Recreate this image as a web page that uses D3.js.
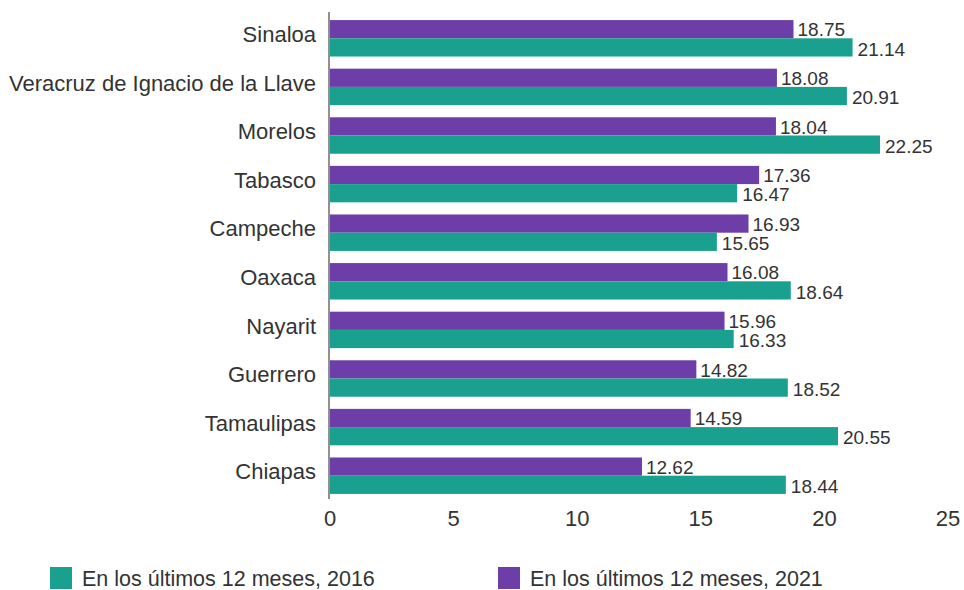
<!DOCTYPE html>
<html>
<head>
<meta charset="utf-8">
<script src="https://cdn.jsdelivr.net/npm/d3@7"></script>
<style>
  body { margin: 0; background: #fff; }
  svg text { font-family: "Liberation Sans", Arial, sans-serif; fill: #333; }
</style>
</head>
<body>
<div id="chart"></div>
<script>
// Data
const states = ['Sinaloa', 'Veracruz de Ignacio de la Llave', 'Morelos', 'Tabasco', 'Campeche',
  'Oaxaca', 'Nayarit', 'Guerrero', 'Tamaulipas', 'Chiapas']
const values2021 = [18.75, 18.08, 18.04, 17.36, 16.93, 16.08, 15.96, 14.82, 14.59, 12.62]
const values2016 = [21.14, 20.91, 22.25, 16.47, 15.65, 18.64, 16.33, 18.52, 20.55, 18.44]
const xTicks = [0, 5, 10, 15, 20, 25]
const seriesNames = ['En los últimos 12 meses, 2016', 'En los últimos 12 meses, 2021']
const colors = ['#1aa08e', '#6e3ea8']

const width = 964
const height = 590

const svg = d3.select('#chart')
  .append('svg')
  .attr('width', width)
  .attr('height', height)

// Scales
const xScale = d3.scaleLinear()
  .domain([0, 25])
  .range([330, 948])

const yScale = d3.scaleBand()
  .domain(states)
  .range([14, 500])
  .paddingInner(0.25)
  .paddingOuter(0.125)

// two bars inside each band: 2021 on top, 2016 below
const subScale = d3.scaleBand()
  .domain(['2021', '2016'])
  .range([0, yScale.bandwidth()])

const rows = states.map((s, i) => ({ state: s, v2021: values2021[i], v2016: values2016[i] }))

const groups = svg.append('g')
  .selectAll('g')
  .data(rows)
  .join('g')
  .attr('transform', d => `translate(0, ${yScale(d.state)})`)

groups.append('rect')
  .attr('x', xScale(0))
  .attr('y', subScale('2021'))
  .attr('width', d => xScale(d.v2021) - xScale(0))
  .attr('height', subScale.bandwidth())
  .attr('fill', colors[1])

groups.append('rect')
  .attr('x', xScale(0))
  .attr('y', subScale('2016'))
  .attr('width', d => xScale(d.v2016) - xScale(0))
  .attr('height', subScale.bandwidth())
  .attr('fill', colors[0])

// value labels
groups.append('text')
  .attr('x', d => xScale(d.v2021) + 4)
  .attr('y', subScale('2021') + subScale.bandwidth() - 2)
  .style('font-size', '19px')
  .text(d => d.v2021.toFixed(2))

groups.append('text')
  .attr('x', d => xScale(d.v2016) + 5)
  .attr('y', subScale('2016') + subScale.bandwidth() - 1)
  .style('font-size', '19px')
  .text(d => d.v2016.toFixed(2))

// category labels
svg.append('g')
  .selectAll('text')
  .data(states)
  .join('text')
  .attr('x', 316)
  .attr('y', d => yScale(d) + yScale.bandwidth() / 2 - 4)
  .attr('dy', '0.35em')
  .attr('text-anchor', 'end')
  .style('font-size', '22px')
  .text(d => d)

// y axis line
svg.append('line')
  .attr('x1', xScale(0) - 1)
  .attr('x2', xScale(0) - 1)
  .attr('y1', 12)
  .attr('y2', 499)
  .attr('stroke', '#222')
  .attr('stroke-width', 1)

// x tick labels
svg.append('g')
  .selectAll('text')
  .data(xTicks)
  .join('text')
  .attr('x', d => xScale(d))
  .attr('y', 518)
  .attr('dy', '0.35em')
  .attr('text-anchor', 'middle')
  .style('font-size', '22px')
  .text(d => d)

// Legend
const legendX = [50, 498]
const legend = svg.append('g')
  .selectAll('g')
  .data(seriesNames)
  .join('g')
  .attr('transform', (d, i) => `translate(${legendX[i]}, 567)`)

legend.append('rect')
  .attr('width', 22)
  .attr('height', 22)
  .attr('fill', (d, i) => colors[i])

legend.append('text')
  .attr('x', 32)
  .attr('y', 11)
  .attr('dy', '0.35em')
  .style('font-size', '21.5px')
  .text(d => d)
</script>
</body>
</html>
